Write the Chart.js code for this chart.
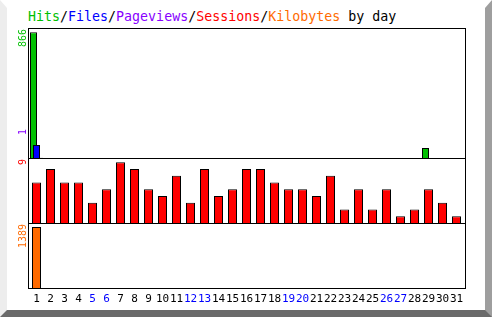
<!DOCTYPE html>
<html>
<head>
<meta charset="utf-8">
<script src="https://cdn.jsdelivr.net/npm/chart.js@4/dist/chart.umd.min.js"></script>
<style>
  html, body { margin: 0; padding: 0; background: #fff; }
  #wrap { position: relative; width: 492px; height: 317px; overflow: hidden; }
  #bevel { position: absolute; left: 0; top: 0; width: 492px; height: 317px; box-sizing: border-box;
    border-top: 8px solid #fff; border-left: 7px solid #ededed;
    border-right: 7px solid #9e9e9e; border-bottom: 7px solid #6a6a6a; }
  #chart { position: absolute; left: 0; top: 0; }
  #title { position: absolute; left: 28px; top: 9px; font: 13.3px "DejaVu Sans Mono", monospace;
    line-height: 16px; white-space: pre; color: #000; }
</style>
</head>
<body>
<div id="wrap">
  <div id="bevel"></div>
  <div id="title"><span style="color:#00c000">Hits</span>/<span style="color:#0000ff">Files</span>/<span style="color:#8800ff">Pageviews</span>/<span style="color:#ff0000">Sessions</span>/<span style="color:#ff6a00">Kilobytes</span> by day</div>
  <canvas id="chart" width="492" height="317"></canvas>
</div>
<script>
// days of the month, weekends drawn in blue
const days = ['1','2','3','4','5','6','7','8','9','10','11','12','13','14','15','16',
              '17','18','19','20','21','22','23','24','25','26','27','28','29','30','31'];
const weekendDays = ['5','6','12','13','19','20','26','27'];

const hits      = [866,0,0,0,0,0,0,0,0,0,0,0,0,0,0,0,0,0,0,0,0,0,0,0,0,0,0,0,69,0,0];
const files     = [90,0,0,0,0,0,0,0,0,0,0,0,0,0,0,0,0,0,0,0,0,0,0,0,0,0,0,0,0,0,0];
const pageviews = [1,0,0,0,0,0,0,0,0,0,0,0,0,0,0,0,0,0,0,0,0,0,0,0,0,0,0,0,0,0,0];
const sessions  = [6,8,6,6,3,5,9,8,5,4,7,3,8,4,5,8,8,6,5,5,4,7,2,5,2,5,1,2,5,3,1];
const kilobytes = [1389,0,0,0,0,0,0,0,0,0,0,0,0,0,0,0,0,0,0,0,0,0,0,0,0,0,0,0,0,0,0];

const GREEN = '#00c000', BLUE = '#0000ff', PURPLE = '#8800ff', RED = '#ff0000', ORANGE = '#ff6a00';
const peak = arr => Math.max(...arr);

// webalizer style: boxes round each panel, max values written upwards on the left
const panelPlugin = {
  id: 'panels',
  afterDatasetsDraw(chart) {
    // files bar sits on top of the hits bar
    chart.getDatasetMeta(1).controller.draw();
    const ctx = chart.ctx;
    const ca = chart.chartArea;
    const left = ca.left - 1, right = ca.right + 2;
    ctx.save();
    ctx.strokeStyle = '#000';
    ctx.lineWidth = 1;
    for (const id of ['yHits', 'ySessions', 'yKb']) {
      const s = chart.scales[id];
      ctx.strokeRect(left, Math.round(s.top) + 0.5, right - left, Math.round(s.bottom) - Math.round(s.top));
    }
    ctx.restore();
  },
  afterDraw(chart) {
    const ctx = chart.ctx;
    const labels = [
      { id: 'yHits', text: String(peak(hits)), color: GREEN, drop: 1 },
      { id: 'yHits', text: String(peak(pageviews)), color: PURPLE, drop: 101 },
      { id: 'ySessions', text: String(peak(sessions)), color: RED, drop: 1 },
      { id: 'yKb', text: String(peak(kilobytes)), color: ORANGE, drop: 1 }
    ];
    ctx.save();
    ctx.font = '10px "DejaVu Sans Mono", monospace';
    ctx.textAlign = 'right';
    ctx.textBaseline = 'middle';
    for (const l of labels) {
      const s = chart.scales[l.id];
      ctx.save();
      ctx.translate(23.5, s.top + l.drop);
      ctx.rotate(-Math.PI / 2);
      ctx.fillStyle = l.color;
      ctx.fillText(l.text, 0, 0);
      ctx.restore();
    }
    ctx.restore();
  }
};

const hidden = { display: true, grid: { display: false, drawTicks: false }, ticks: { display: false },
                 border: { display: false }, bounds: 'data', min: 0 };

new Chart(document.getElementById('chart'), {
  type: 'bar',
  data: {
    labels: days,
    datasets: [
      { label: 'Hits', data: hits, backgroundColor: GREEN, yAxisID: 'yHits', stack: 'h',
        categoryPercentage: 0.643, barPercentage: 2.333 },
      { label: 'Files', data: files, backgroundColor: BLUE, yAxisID: 'yHits', stack: 'f',
        categoryPercentage: 0.643, barPercentage: 2.333 },
      { label: 'Pageviews', data: pageviews, backgroundColor: PURPLE, yAxisID: 'yHits', stack: 'p',
        categoryPercentage: 0.643, barPercentage: 2.333 },
      { label: 'Sessions', data: sessions, backgroundColor: RED, yAxisID: 'ySessions', grouped: false,
        categoryPercentage: 1, barPercentage: 0.643 },
      { label: 'Kilobytes', data: kilobytes, backgroundColor: ORANGE, yAxisID: 'yKb', grouped: false,
        categoryPercentage: 1, barPercentage: 0.643 }
    ]
  },
  options: {
    responsive: false,
    animation: false,
    events: [],
    layout: { padding: { left: 29.5, right: 28.5, top: 28, bottom: 8 } },
    datasets: { bar: { borderColor: '#000', borderWidth: 1 } },
    plugins: { legend: { display: false }, tooltip: { enabled: false } },
    scales: {
      x: {
        grid: { display: false },
        border: { display: false },
        afterFit: s => { s.height = 21; },
        ticks: {
          autoSkip: false, maxRotation: 0, padding: -3,
          font: { family: '"DejaVu Sans Mono", monospace', size: 11 },
          color: c => weekendDays.includes(days[c.index]) ? BLUE : '#000'
        }
      },
      // stacked left axes are laid out bottom first
      yKb:       { ...hidden, position: 'left', stack: 'panels', stackWeight: 1, max: peak(kilobytes) / 0.938 },
      ySessions: { ...hidden, position: 'left', stack: 'panels', stackWeight: 1, max: peak(sessions) / 0.934 },
      yHits:     { ...hidden, position: 'left', stack: 'panels', stackWeight: 2, max: peak(hits) / 0.967 }
    }
  },
  plugins: [panelPlugin]
});
</script>
</body>
</html>
